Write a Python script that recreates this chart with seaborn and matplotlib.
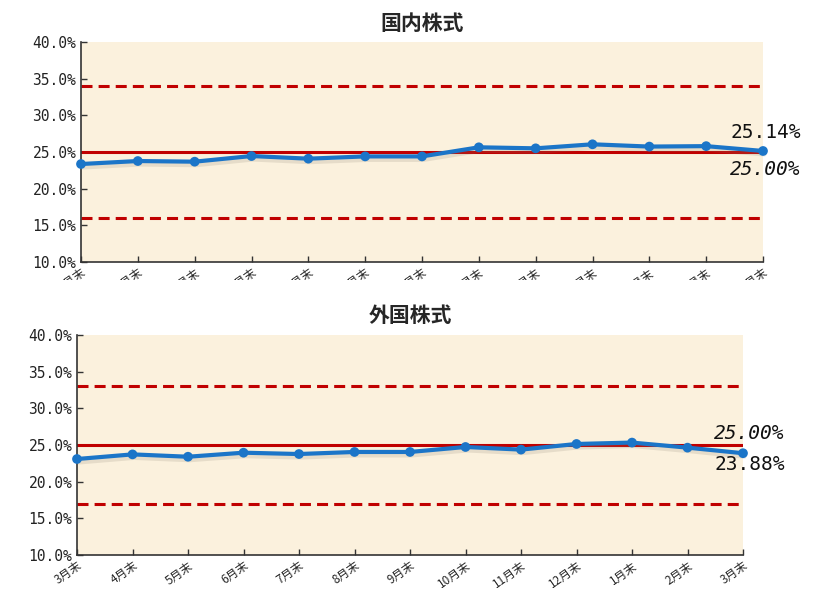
import matplotlib
matplotlib.use("Agg")
import matplotlib.pyplot as plt
import matplotlib.patheffects as pe
from matplotlib.transforms import Bbox, TransformedBbox
import seaborn as sns
import pandas as pd

months = ["3月末", "4月末", "5月末", "6月末", "7月末", "8月末", "9月末",
          "10月末", "11月末", "12月末", "1月末", "2月末", "3月末"]

domestic = [23.36, 23.77, 23.68, 24.45, 24.09, 24.40, 24.40,
            25.64, 25.50, 26.05, 25.74, 25.80, 25.14]
foreign = [23.09, 23.72, 23.40, 23.95, 23.77, 24.05, 24.05,
           24.73, 24.37, 25.14, 25.33, 24.64, 23.88]

# target weight and permitted band for each asset
dom_target, dom_band = 25.0, (16.0, 34.0)
for_target, for_band = 25.0, (17.0, 33.0)

y_ticks = [10, 15, 20, 25, 30, 35, 40]

sns.set_theme(style="white")
plt.rcParams["font.family"] = ["Noto Sans CJK JP", "DejaVu Sans"]

BG = "#FBF1DD"
BLUE = "#1B75C8"
RED = "#C00000"
MONO = "DejaVu Sans Mono"

fig = plt.figure(figsize=(8.19, 5.90), dpi=100)
W, H = 819, 590
ax1 = fig.add_axes([81 / W, (H - 262) / H, 682 / W, 220 / H])
ax2 = fig.add_axes([77 / W, (H - 555) / H, 666 / W, 220 / H])


def draw_panel(ax, title, values, target, band):
    ax.set_facecolor(BG)
    df = pd.DataFrame({"idx": range(len(values)), "val": values})
    ax.axhline(target, color=RED, lw=2.2, zorder=2)
    for b in band:
        ax.axhline(b, color=RED, lw=2.2, dashes=(3.6, 2.0), zorder=2)
    sns.lineplot(data=df, x="idx", y="val", ax=ax, color=BLUE, lw=3.0,
                 marker="o", markersize=7, markeredgewidth=0,
                 sort=False, zorder=3, clip_on=False,
                 path_effects=[pe.SimpleLineShadow(offset=(1, -2.5),
                                                   shadow_color="#888070",
                                                   alpha=0.18),
                               pe.Normal()])
    ax.set_xlim(0, len(values) - 1)
    ax.set_ylim(10, 40)
    ax.set_yticks(y_ticks)
    ax.set_yticklabels([f"{v:.1f}%" for v in y_ticks], family=MONO,
                       fontsize=10.5, color="#222222")
    ax.set_xticks(range(len(months)))
    ax.set_xticklabels(months, rotation=35, ha="right",
                       rotation_mode="anchor", fontsize=8.5)
    ax.tick_params(axis="both", direction="in", length=4, width=1,
                   color="#333333", left=True, bottom=True)
    ax.tick_params(axis="x", pad=3)
    ax.set_xlabel("")
    ax.set_ylabel("")
    for s in ("top", "right"):
        ax.spines[s].set_visible(False)
    for s in ("left", "bottom"):
        ax.spines[s].set_color("#333333")
        ax.spines[s].set_linewidth(1.2)
    ax.set_title(title, fontsize=15, fontweight="bold", pad=9)
    ax.grid(False)


draw_panel(ax1, "国内株式", domestic, dom_target, dom_band)
draw_panel(ax2, "外国株式", foreign, for_target, for_band)

# month labels of the upper panel are cut off by the lower panel's area
clip = TransformedBbox(Bbox([[0, (H - 280) / H], [1, 1]]), fig.transFigure)
for lab in ax1.get_xticklabels():
    lab.set_clip_on(True)
    lab.set_clip_box(clip)

# end-point value and target labels
txt = dict(textcoords="offset points", ha="right", va="center",
           family=MONO, fontsize=14, color="#111111", annotation_clip=False)
ax1.annotate(f"{domestic[-1]:.2f}%", xy=(12, domestic[-1]),
             xytext=(27, 13), **txt)
ax1.annotate(f"{dom_target:.2f}%", xy=(12, domestic[-1]),
             xytext=(27, -13.5), style="italic", **txt)
ax2.annotate(f"{for_target:.2f}%", xy=(12, foreign[-1]),
             xytext=(30, 14.5), style="italic", **txt)
ax2.annotate(f"{foreign[-1]:.2f}%", xy=(12, foreign[-1]),
             xytext=(30, -8), **txt)

fig.savefig("out.png", dpi=100, facecolor="white")
